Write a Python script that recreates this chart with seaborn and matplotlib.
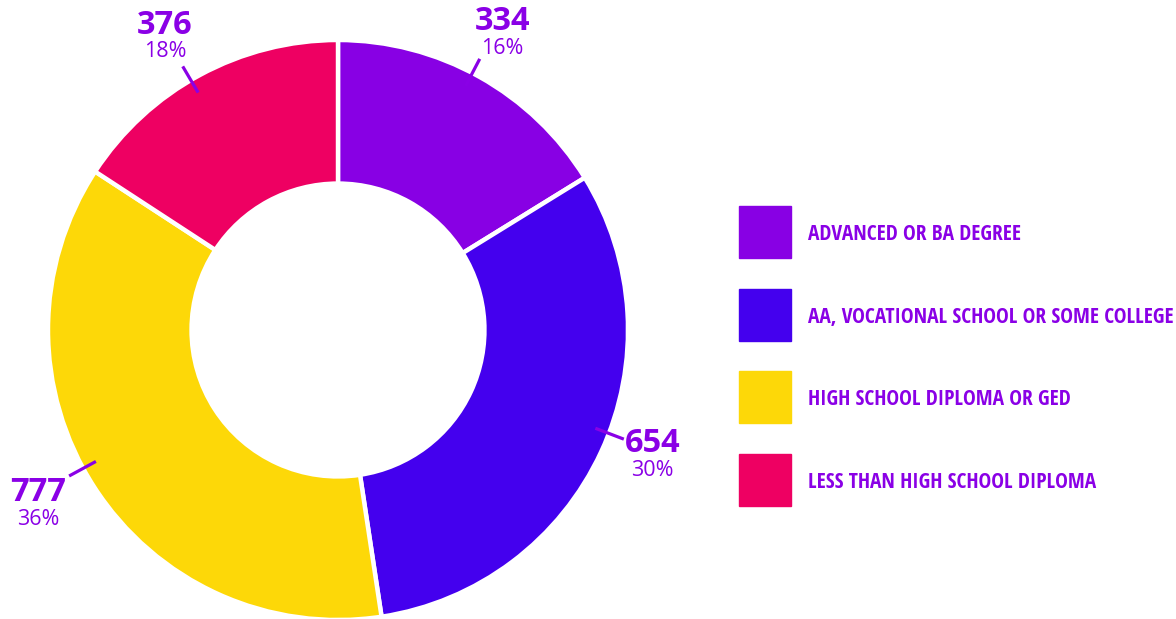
import matplotlib
matplotlib.use("Agg")
import matplotlib.pyplot as plt
from matplotlib import font_manager
import numpy as np
import seaborn as sns
from matplotlib.patches import Rectangle

categories = ["ADVANCED OR BA DEGREE",
              "AA, VOCATIONAL SCHOOL OR SOME COLLEGE",
              "HIGH SCHOOL DIPLOMA OR GED",
              "LESS THAN HIGH SCHOOL DIPLOMA"]
counts = [334, 654, 777, 376]
pct_labels = ["16%", "30%", "36%", "18%"]
# ring segment sizes as drawn in the picture (%), slightly off the counts
wedge_share = [16.2, 31.4, 36.6, 15.8]
colors = sns.color_palette(["#8800E4", "#4400EE", "#FDD808", "#EE0062"])
text_color = "#8A00E6"

# label layout (degrees / radius in ring units), as placed in the picture
leader_angle = [62.4, -20.9, -151.5, 120.5]
label_angle = [61.0, -21.8, -149.7, 120.6]
label_radius = [1.168, 1.167, 1.197, 1.173]

sns.set_theme(style="white")
plt.rcParams["font.family"] = ["Open Sans", "DejaVu Sans"]

# pick a condensed bold face for the legend if one is installed
names = {f.name for f in font_manager.fontManager.ttflist}
legend_family = ["Open Sans", "DejaVu Sans"]
for cand in ["Liberation Sans Narrow", "DejaVu Sans Condensed", "Open Sans Condensed"]:
    if cand in names:
        legend_family = [cand, "DejaVu Sans"]
        break

fig = plt.figure(figsize=(11.76, 6.19), dpi=100)
W, H = 1176, 619
cx, cy, R = 338, 330, 290
ax = fig.add_axes([(cx - R) / W, (H - cy - R) / H, 2 * R / W, 2 * R / H])

wedges, _ = ax.pie(wedge_share, colors=colors, startangle=90, counterclock=False,
                   radius=1.0,
                   wedgeprops=dict(width=0.495, edgecolor="white", linewidth=3.2))
ax.set_xlim(-1, 1)
ax.set_ylim(-1, 1)
ax.set_aspect("equal")
ax.axis("off")

for n, p, la, ta, tr in zip(counts, pct_labels, leader_angle, label_angle, label_radius):
    c, s = np.cos(np.deg2rad(la)), np.sin(np.deg2rad(la))
    ax.plot([0.95 * c, 1.055 * c], [0.95 * s, 1.055 * s], color=text_color,
            lw=2.3, clip_on=False, solid_capstyle="butt")
    x, y = tr * np.cos(np.deg2rad(ta)), tr * np.sin(np.deg2rad(ta))
    ax.text(x, y + 0.042, str(n), ha="center", va="center", fontsize=23.5,
            fontweight="bold", color=text_color, clip_on=False)
    ax.text(x, y - 0.05, p, ha="center", va="center", fontsize=15.5,
            color=text_color, clip_on=False)

# legend
texts = []
for i, (cat, col) in enumerate(zip(categories, colors)):
    top = 206 + i * 82.5
    fig.patches.append(Rectangle((739 / W, 1 - (top + 52) / H), 52 / W, 52 / H,
                                 transform=fig.transFigure, color=col))
    t = fig.text(808 / W, 1 - (top + 28.5) / H, cat, ha="left", va="center",
                 fontsize=16, fontweight="bold", color=text_color,
                 family=legend_family)
    texts.append(t)

# shrink the legend font so the longest entry fits its space
fig.canvas.draw()
renderer = fig.canvas.get_renderer()
widest = max(t.get_window_extent(renderer).width for t in texts)
if widest > 364:
    for t in texts:
        t.set_fontsize(16 * 364 / widest)

fig.savefig("out.png", dpi=100)
